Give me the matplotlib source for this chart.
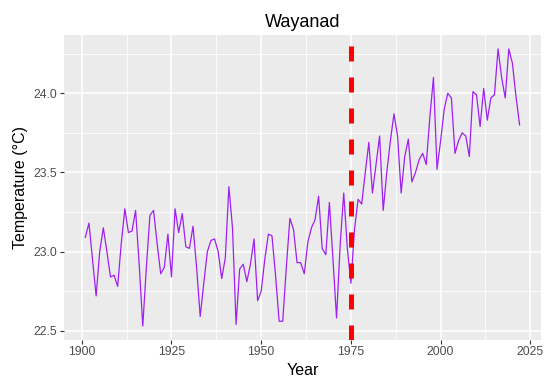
import numpy as np
import matplotlib.pyplot as plt
from matplotlib.ticker import MultipleLocator

plt.rcParams['font.family'] = ['Liberation Sans', 'DejaVu Sans']

# annual mean temperature, Wayanad, 1901-2022
years = np.arange(1901, 2023)
temps = [
    23.09, 23.18, 22.95, 22.72, 23.00, 23.15, 23.00, 22.84, 22.85, 22.78,  # 1901-1910
    23.05, 23.27, 23.12, 23.13, 23.26, 22.92, 22.53, 22.90, 23.23, 23.26,  # 1911-1920
    23.05, 22.86, 22.90, 23.11, 22.84, 23.27, 23.12, 23.24, 23.03, 23.02,  # 1921-1930
    23.16, 22.90, 22.59, 22.80, 23.00, 23.07, 23.08, 23.00, 22.83, 22.96,  # 1931-1940
    23.41, 23.15, 22.54, 22.89, 22.92, 22.81, 22.92, 23.08, 22.69, 22.75,  # 1941-1950
    22.95, 23.11, 23.10, 22.85, 22.56, 22.56, 22.90, 23.21, 23.14, 22.93,  # 1951-1960
    22.93, 22.86, 23.06, 23.15, 23.20, 23.35, 23.02, 22.98, 23.31, 22.95,  # 1961-1970
    22.58, 23.04, 23.37, 23.02, 22.80, 23.14, 23.33, 23.30, 23.50, 23.69,  # 1971-1980
    23.37, 23.55, 23.73, 23.26, 23.50, 23.70, 23.87, 23.73, 23.37, 23.60,  # 1981-1990
    23.71, 23.44, 23.50, 23.58, 23.62, 23.55, 23.85, 24.10, 23.52, 23.70,  # 1991-2000
    23.90, 24.00, 23.97, 23.62, 23.70, 23.75, 23.73, 23.60, 24.01, 23.99,  # 2001-2010
    23.79, 24.03, 23.83, 23.97, 23.99, 24.28, 24.10, 23.97, 24.28, 24.19,  # 2011-2020
    23.98, 23.80,                                                          # 2021-2022
]
break_year = 1975

fig = plt.figure(figsize=(5.44, 3.81), dpi=100)
ax = fig.add_axes([0.117, 0.108, 0.878, 0.800])

# ggplot2 grey theme
ax.set_facecolor('#EBEBEB')
for s in ax.spines.values():
    s.set_visible(False)
ax.xaxis.set_major_locator(MultipleLocator(25))
ax.xaxis.set_minor_locator(MultipleLocator(12.5))
ax.yaxis.set_major_locator(MultipleLocator(0.5))
ax.yaxis.set_minor_locator(MultipleLocator(0.25))
ax.grid(which='major', color='white', linewidth=1.1)
ax.grid(which='minor', color='white', linewidth=0.55)
ax.set_axisbelow(True)
ax.tick_params(which='major', length=2.75, width=0.8, color='#333333',
               labelcolor='#4D4D4D', labelsize=8.8, pad=2)
ax.tick_params(which='minor', length=0)

ax.plot(years, temps, color='#A020F0', linewidth=0.9)
ax.axvline(break_year, color='#FF0000', linewidth=3.6, linestyle=(0, (3, 3.2)))

# 5% expansion like ggplot
xr = years.max() - years.min()
ax.set_xlim(years.min() - 0.05 * xr, years.max() + 0.05 * xr)
yr = max(temps) - min(temps)
ax.set_ylim(min(temps) - 0.05 * yr, max(temps) + 0.05 * yr)
ax.yaxis.set_major_formatter(plt.FuncFormatter(lambda v, p: f'{v:.1f}'))

ax.set_title('Wayanad', fontsize=13, pad=6)
ax.set_xlabel('Year', fontsize=11.5, labelpad=3)
ax.set_ylabel('Temperature (°C)', fontsize=11.5, labelpad=4)

fig.savefig('out.png', dpi=100)
